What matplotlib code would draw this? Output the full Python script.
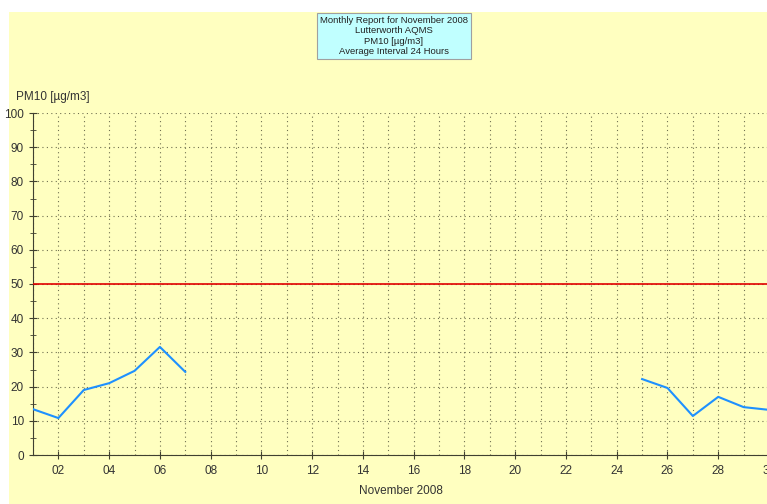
import numpy as np
import matplotlib.pyplot as plt
from matplotlib.patches import Rectangle

plt.rcParams['font.family'] = ['Liberation Sans', 'DejaVu Sans']

# daily PM10 means, November 2008 (NaN = no data)
days = list(range(1, 31))
pm10 = [13.4, 10.8, 19.0, 21.0, 24.6, 31.6, 24.3] + [np.nan] * 17 + \
       [22.2, 19.6, 11.4, 17.0, 14.0, 13.2]
limit = 50
xticks = list(range(2, 31, 2))
xlabels = ['%02d' % d for d in xticks]
yticks = list(range(0, 101, 10))

W, H = 767, 504
fig = plt.figure(figsize=(W / 100, H / 100), dpi=100, facecolor='white')

# yellow panel
fig.patches.append(Rectangle((9 / W, 0), 1, 1 - 12 / H, transform=fig.transFigure,
                             facecolor='#FFFFC0', edgecolor='none', zorder=-10))

ax = fig.add_axes([33 / W, (H - 455) / H, (769 - 33) / W, (455 - 113) / H])
ax.set_facecolor('none')
ax.set_zorder(2)

ax.plot(days, pm10, color='#1E90FF', lw=1.5, zorder=3)
ax.axhline(limit, color='#E00000', lw=1.2, zorder=3)

ax.set_xlim(1, 30)
ax.set_ylim(0, 100)
ax.set_xticks(xticks)
ax.set_xticklabels(xlabels)
ax.set_xticks(days, minor=True)
ax.set_yticks(yticks)
ax.set_yticks(range(0, 101, 5), minor=True)

ax.grid(True, which='major', axis='y', linestyle=(0, (1, 3)), color='#707050', lw=0.8)
ax.grid(True, which='both', axis='x', linestyle=(0, (1, 3)), color='#707050', lw=0.8)

for s in ['top', 'right']:
    ax.spines[s].set_visible(False)
for s in ['left', 'bottom']:
    ax.spines[s].set_color('#404030')

ax.tick_params(axis='both', which='major', direction='inout', length=6, labelsize=8.5,
               colors='#404030', labelcolor='#333333')
ax.tick_params(axis='both', which='minor', direction='inout', length=4, colors='#404030')
ax.tick_params(axis='x', which='minor', length=0)
ax.tick_params(axis='x', pad=4)

ax.set_xlabel('November 2008', fontsize=8.5, color='#333333', labelpad=6)
fig.text(16 / W, 1 - 97 / H, 'PM10 [µg/m3]', fontsize=8.5, color='#333333', va='center')

fig.text(394 / W, 1 - 36 / H,
         'Monthly Report for November 2008\nLutterworth AQMS\nPM10 [µg/m3]\nAverage Interval 24 Hours',
         ha='center', va='center', fontsize=6.8, color='#222222', linespacing=1.2,
         bbox=dict(boxstyle='square,pad=0.3', facecolor='#C0FFFF', edgecolor='#A0A0A0', lw=0.8))

fig.savefig('out.png', dpi=100, facecolor='white')
